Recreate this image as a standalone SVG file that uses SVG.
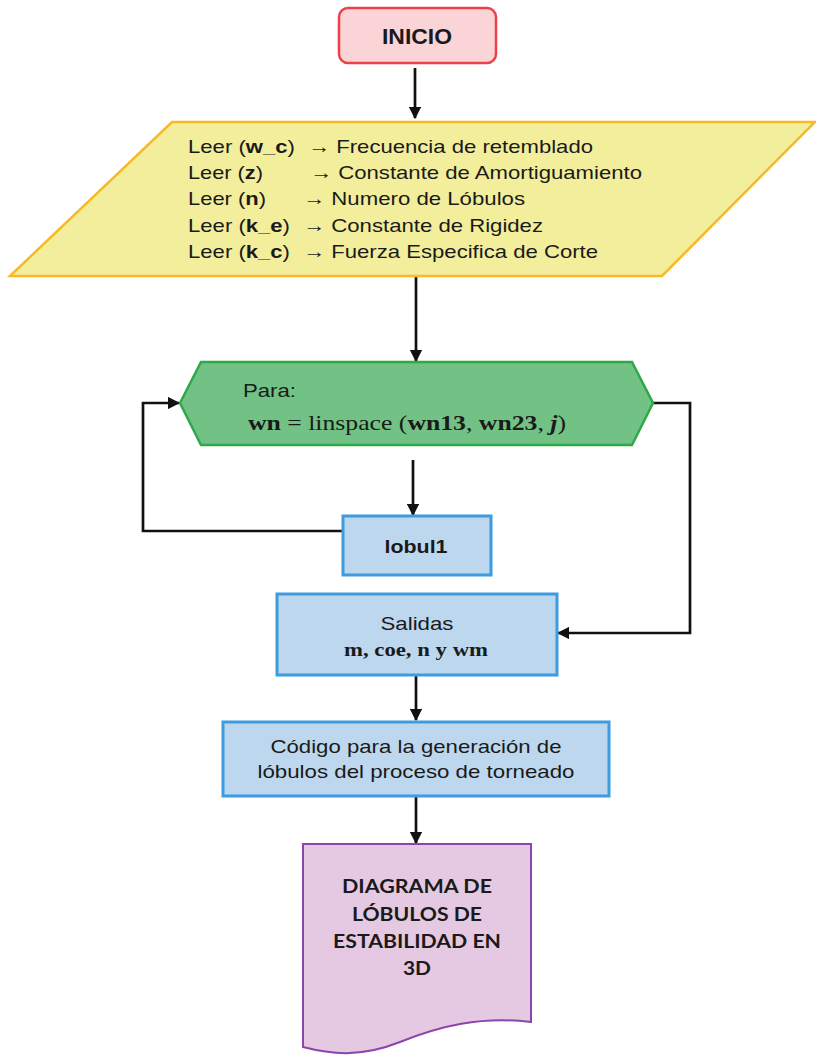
<svg xmlns="http://www.w3.org/2000/svg" width="816" height="1055" viewBox="0 0 816 1055">
<defs>
<marker id="ah" viewBox="0 0 10 10" refX="9" refY="5" markerWidth="4.6" markerHeight="4.6" orient="auto" markerUnits="strokeWidth">
<path d="M0,0 L10,5 L0,10 Z" fill="#111"/>
</marker>
<style>
.t{font-family:"Liberation Sans",Arial,sans-serif;fill:#1a1a1a;}
.m{font-family:"Liberation Serif","Times New Roman",serif;fill:#1a1a1a;}
.c{font-family:Lato,"Open Sans",sans-serif;font-weight:bold;fill:#1a1a1a;}
.ln{fill:none;stroke:#111;stroke-width:2.7;}
.blue{fill:#bdd7ee;stroke:#3d9be0;stroke-width:3;}
</style>
</defs>
<rect width="816" height="1055" fill="#fff"/>

<g id="connectors">
<path class="ln" d="M415,68 V118" marker-end="url(#ah)"/>
<path class="ln" d="M416,277 V361" marker-end="url(#ah)"/>
<path class="ln" d="M413,460 V515" marker-end="url(#ah)"/>
<path class="ln" d="M343,531 H143 V403 H179" marker-end="url(#ah)"/>
<path class="ln" d="M653,403 H690 V633 H558" marker-end="url(#ah)"/>
<path class="ln" d="M416,676 V720" marker-end="url(#ah)"/>
<path class="ln" d="M416,797 V843" marker-end="url(#ah)"/>
</g>

<g id="inicio">
<rect x="339" y="8" width="157" height="55" rx="9" fill="#fad4d6" stroke="#ee4047" stroke-width="2.5"/>
<text class="t" x="417" y="44" font-size="22" font-weight="bold" text-anchor="middle" textLength="70" lengthAdjust="spacingAndGlyphs">INICIO</text>
</g>

<g id="leer">
<polygon points="172,122 815,122 662,276 10,276" fill="#f2ee9c" stroke="#f7b928" stroke-width="2.5"/>
<g class="t" font-size="18.5">
<text x="188" y="153" textLength="107" lengthAdjust="spacingAndGlyphs">Leer (<tspan font-weight="bold">w_c</tspan>)</text>
<text x="308" y="153" textLength="285" lengthAdjust="spacingAndGlyphs">→ Frecuencia de retemblado</text>
<text x="188" y="179" textLength="75" lengthAdjust="spacingAndGlyphs">Leer (<tspan font-weight="bold">z</tspan>)</text>
<text x="310" y="179" textLength="332" lengthAdjust="spacingAndGlyphs">→ Constante de Amortiguamiento</text>
<text x="188" y="205" textLength="78" lengthAdjust="spacingAndGlyphs">Leer (<tspan font-weight="bold">n</tspan>)</text>
<text x="303" y="205" textLength="222" lengthAdjust="spacingAndGlyphs">→ Numero de Lóbulos</text>
<text x="188" y="232" textLength="102" lengthAdjust="spacingAndGlyphs">Leer (<tspan font-weight="bold">k_e</tspan>)</text>
<text x="303" y="232" textLength="240" lengthAdjust="spacingAndGlyphs">→ Constante de Rigidez</text>
<text x="188" y="258" textLength="102" lengthAdjust="spacingAndGlyphs">Leer (<tspan font-weight="bold">k_c</tspan>)</text>
<text x="303" y="258" textLength="295" lengthAdjust="spacingAndGlyphs">→ Fuerza Especifica de Corte</text>
</g>
</g>

<g id="para">
<polygon points="180,403 201,362 632,362 653,403 632,445 201,445" fill="#72c285" stroke="#2fa84a" stroke-width="2.5"/>
<text class="t" x="243" y="397" font-size="19" textLength="53" lengthAdjust="spacingAndGlyphs">Para:</text>
<text class="m" x="248" y="430" font-size="21" textLength="318" lengthAdjust="spacingAndGlyphs"><tspan font-weight="bold">wn</tspan> = linspace (<tspan font-weight="bold">wn13</tspan>, <tspan font-weight="bold">wn23</tspan>, <tspan font-weight="bold" font-style="italic">j</tspan>)</text>
</g>

<g id="lobul1">
<rect class="blue" x="343" y="516" width="148" height="59"/>
<text class="t" x="416" y="553" font-size="19" font-weight="bold" text-anchor="middle" textLength="63" lengthAdjust="spacingAndGlyphs">lobul1</text>
</g>

<g id="salidas">
<rect class="blue" x="277" y="594" width="280" height="81"/>
<text class="t" x="417" y="630" font-size="19" text-anchor="middle" textLength="73" lengthAdjust="spacingAndGlyphs">Salidas</text>
<text class="m" x="416" y="656" font-size="18" font-weight="bold" text-anchor="middle" textLength="144" lengthAdjust="spacingAndGlyphs">m, coe, n y wm</text>
</g>

<g id="codigo">
<rect class="blue" x="223" y="722" width="386" height="74"/>
<text class="t" x="416" y="753" font-size="19" text-anchor="middle" textLength="291" lengthAdjust="spacingAndGlyphs">Código para la generación de</text>
<text class="t" x="416" y="778" font-size="19" text-anchor="middle" textLength="317" lengthAdjust="spacingAndGlyphs">lóbulos del proceso de torneado</text>
</g>

<g id="documento">
<path d="M303,844 H531 V1022 C480,1016 440,1026 400,1042 C360,1058 330,1054 303,1047 Z" fill="#e5c9e2" stroke="#8e44ad" stroke-width="2"/>
<g class="c" font-size="19" text-anchor="middle">
<text x="417" y="893" textLength="150" lengthAdjust="spacingAndGlyphs">DIAGRAMA DE</text>
<text x="417" y="921" textLength="130" lengthAdjust="spacingAndGlyphs">LÓBULOS DE</text>
<text x="417" y="948" textLength="168" lengthAdjust="spacingAndGlyphs">ESTABILIDAD EN</text>
<text x="417" y="975" textLength="28" lengthAdjust="spacingAndGlyphs">3D</text>
</g>
</g>
</svg>
